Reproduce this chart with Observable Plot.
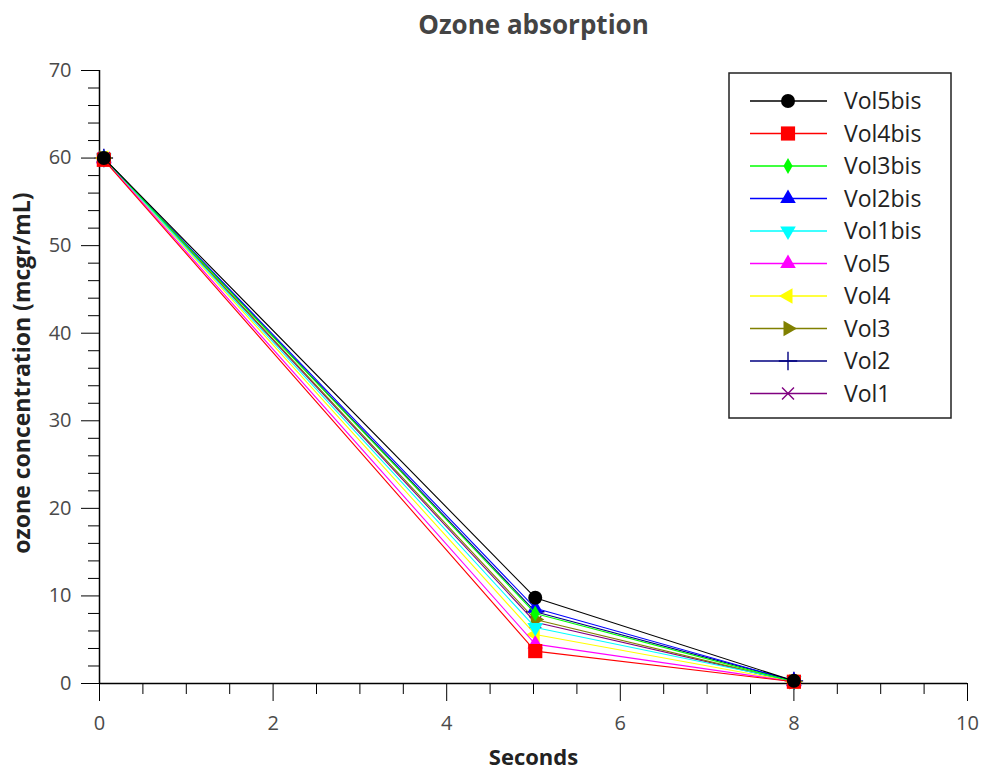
<!DOCTYPE html>
<html>
<head>
<meta charset="utf-8">
<script src="https://cdn.jsdelivr.net/npm/d3@7"></script>
<script src="https://cdn.jsdelivr.net/npm/@observablehq/plot@0.6"></script>
<style>
  html, body { margin: 0; padding: 0; background: #fff; }
  #chart svg { display: block; }
</style>
</head>
<body>
<div id="chart"></div>
<script>
// ---- Data ----
const title = "Ozone absorption";
const xLabel = "Seconds";
const yLabel = "ozone concentration (mcgr/mL)";
const series = ["Vol5bis", "Vol4bis", "Vol3bis", "Vol2bis", "Vol1bis", "Vol5", "Vol4", "Vol3", "Vol2", "Vol1"];
const seconds = [0.05, 5.02, 8.0];
const conc0 = [60, 59.8, 60, 60, 60, 59.9, 60, 60, 60, 60];
const conc5 = [9.8, 3.7, 8.0, 8.6, 6.4, 4.5, 5.6, 7.3, 8.2, 7.0];
const conc8 = [0.3, 0.2, 0.2, 0.3, 0.3, 0.2, 0.2, 0.2, 0.3, 0.2];
const colors = ["#000000", "#ff0000", "#00ff00", "#0000ff", "#00ffff", "#ff00ff", "#ffff00", "#808000", "#000080", "#800080"];
const xTicks = [0, 2, 4, 6, 8, 10];
const xMinor = [0.5, 1, 1.5, 2.5, 3, 3.5, 4.5, 5, 5.5, 6.5, 7, 7.5, 8.5, 9, 9.5];
const yTicks = [0, 10, 20, 30, 40, 50, 60, 70];
const yMinor = [2, 4, 6, 8, 12, 14, 16, 18, 22, 24, 26, 28, 32, 34, 36, 38, 42, 44, 46, 48, 52, 54, 56, 58, 62, 64, 66, 68];

// marker style per series: [symbol, r, rotate, filled]
const markers = [
  ["circle", 7, 0, true],
  ["square", 8, 0, true],
  ["diamond", 4.8, 0, true],
  ["triangle", 5.8, 0, true],
  ["triangle", 5.8, 180, true],
  ["triangle", 5.8, 0, true],
  ["triangle", 5.8, -90, true],
  ["triangle", 5.8, 90, true],
  ["plus", 6, 0, false],
  ["times", 5.5, 0, false]
];

const rows = [];
series.forEach((s, i) => {
  [conc0[i], conc5[i], conc8[i]].forEach((v, j) => rows.push({series: s, t: seconds[j], c: v}));
});

const marks = [];
// draw from last to first so Vol5bis sits on top
for (let i = series.length - 1; i >= 0; i--) {
  const s = series[i];
  const data = rows.filter(d => d.series === s);
  const [sym, r, rot, filled] = markers[i];
  marks.push(Plot.line(data, {x: "t", y: "c", stroke: colors[i], strokeWidth: 1.1}));
  marks.push(Plot.dot(data, {
    x: "t", y: "c", symbol: () => sym, r: r, rotate: rot,
    fill: filled ? colors[i] : "none",
    stroke: filled ? "none" : colors[i],
    strokeWidth: filled ? 0 : 1.4
  }));
}

const plot = Plot.plot({
  width: 984,
  height: 773,
  marginLeft: 99,
  marginRight: 17,
  marginTop: 70,
  marginBottom: 90,
  style: {fontFamily: "'Open Sans', sans-serif", fontSize: "20px", background: "#fff"},
  x: {domain: [0, 10], label: null},
  y: {domain: [0, 70], label: null},
  symbol: {type: "identity"},
  marks: [
    Plot.axisX({ticks: xMinor, tickSize: 11, tickFormat: () => "", label: null, stroke: "#000"}),
    Plot.axisX({ticks: xTicks, tickSize: 18, tickPadding: 14, fontSize: 20, label: null, stroke: "#000", fill: "#4a4a4a"}),
    Plot.axisY({ticks: yMinor, tickSize: 11, tickFormat: () => "", label: null, stroke: "#000"}),
    Plot.axisY({ticks: yTicks, tickSize: 18, tickPadding: 10, fontSize: 20, label: null, stroke: "#000", fill: "#4a4a4a"}),
    Plot.ruleX([0], {stroke: "#000", strokeWidth: 1.5}),
    Plot.ruleY([0], {stroke: "#000", strokeWidth: 1.5}),
    ...marks,
    Plot.text([title], {frameAnchor: "top", dy: -45, fontSize: 26, fontWeight: "bold", fill: "#444", lineAnchor: "middle"}),
    Plot.text([xLabel], {frameAnchor: "bottom", dy: 74, fontSize: 22, fontWeight: "bold", fill: "#222", lineAnchor: "middle"}),
    Plot.text([yLabel], {frameAnchor: "left", dx: -77, dy: -4, rotate: -90, textAnchor: "middle", fontSize: 23, fontWeight: "bold", fill: "#222", lineAnchor: "middle"})
  ]
});

document.getElementById("chart").appendChild(plot);

// ---- Legend (drawn with d3 inside the same SVG) ----
const svg = d3.select(plot);
const lg = svg.append("g").attr("class", "legend");
const boxX = 729, boxY = 73, boxW = 222, boxH = 345, rowY0 = 101, rowStep = 32.5;
lg.append("rect").attr("x", boxX).attr("y", boxY).attr("width", boxW).attr("height", boxH)
  .attr("fill", "#fff").attr("stroke", "#222").attr("stroke-width", 1.5);
const symTypes = {circle: d3.symbolCircle, square: d3.symbolSquare, diamond: d3.symbolDiamond,
  triangle: d3.symbolTriangle, plus: d3.symbolPlus, times: d3.symbolTimes};
series.forEach((s, i) => {
  const y = rowY0 + i * rowStep;
  const [sym, r, rot, filled] = markers[i];
  lg.append("line").attr("x1", 750).attr("x2", 827).attr("y1", y).attr("y2", y)
    .attr("stroke", colors[i]).attr("stroke-width", 1.3);
  lg.append("path")
    .attr("d", d3.symbol(symTypes[sym], Math.PI * r * r)())
    .attr("transform", `translate(788,${y}) rotate(${rot})`)
    .attr("fill", filled ? colors[i] : "none")
    .attr("stroke", filled ? "none" : colors[i])
    .attr("stroke-width", 1.4);
  lg.append("text").attr("x", 844).attr("y", y).attr("dy", "0.35em")
    .attr("text-anchor", "start")
    .attr("font-family", "'Open Sans', sans-serif").attr("font-size", 23).attr("fill", "#222")
    .text(s);
});
</script>
</body>
</html>
